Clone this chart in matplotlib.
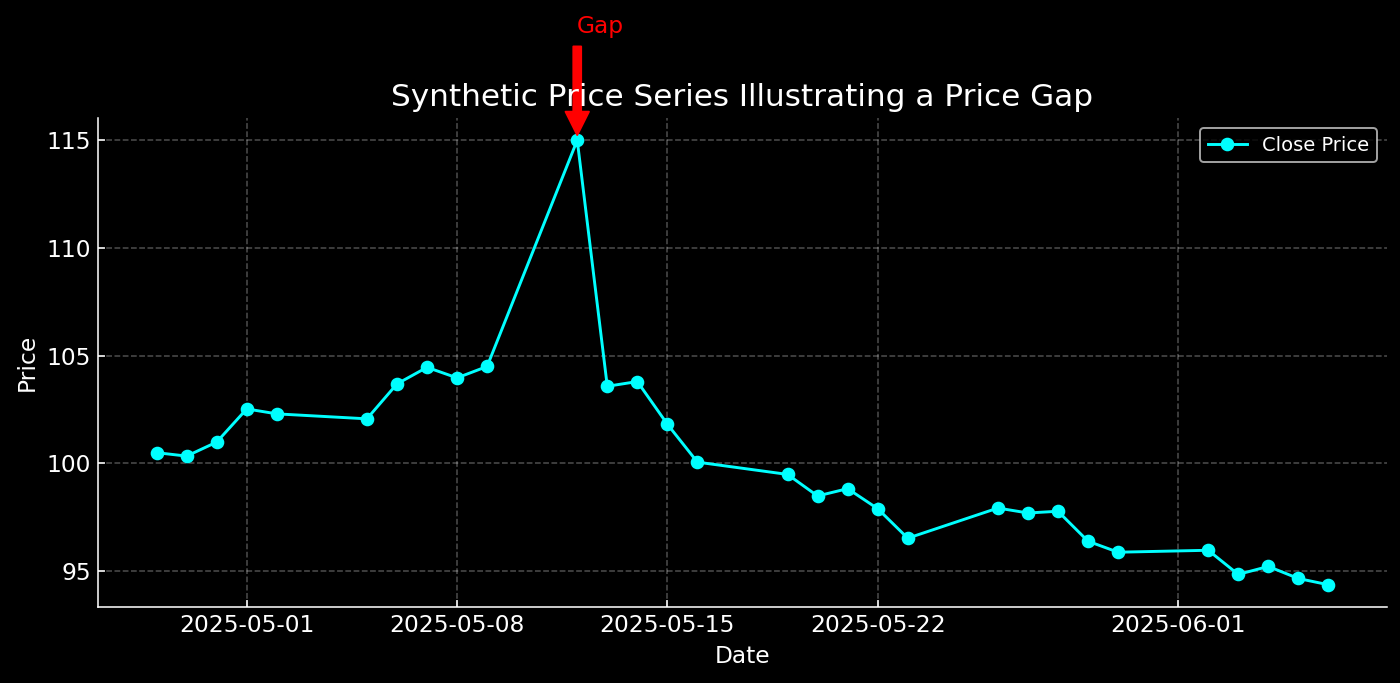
import pandas as pd
import matplotlib
matplotlib.use('Agg')
import matplotlib.pyplot as plt

# Business days, 2025-04-28 .. 2025-06-06
dates = pd.bdate_range('2025-04-28', '2025-06-06')

# Close prices
close = [100.50, 100.34, 100.99, 102.53, 102.30,
         102.07, 103.69, 104.46, 103.97, 104.50,
         115.00, 103.58, 103.80, 101.82, 100.06,
         99.49, 98.49, 98.83, 97.90, 96.53,
         97.93, 97.70, 97.78, 96.39, 95.88,
         95.97, 94.85, 95.22, 94.66, 94.37]

gap_date = pd.Timestamp('2025-05-12')
gap_price = 115.0
gap_text_y = 120.0

plt.style.use('dark_background')

fig, ax = plt.subplots(figsize=(10, 4.879), dpi=140)
fig.subplots_adjust(left=0.07, right=0.9907, top=0.8272, bottom=0.1113)

ax.plot(dates, close, marker='o', color='cyan', label='Close Price')

ax.annotate('Gap', xy=(gap_date, gap_price), xytext=(gap_date, gap_text_y),
            color='red', fontsize=12,
            arrowprops=dict(facecolor='red', edgecolor='red', shrink=0.05))

ax.set_title('Synthetic Price Series Illustrating a Price Gap', fontsize=16)
ax.set_xlabel('Date', fontsize=12)
ax.set_ylabel('Price', fontsize=12)
ax.tick_params(axis='both', direction='in', labelsize=12)
ax.grid(True, linestyle='--', alpha=0.3)
ax.spines['top'].set_visible(False)
ax.spines['right'].set_visible(False)
ax.legend(fontsize=10)

fig.savefig('out.png', dpi=140)
